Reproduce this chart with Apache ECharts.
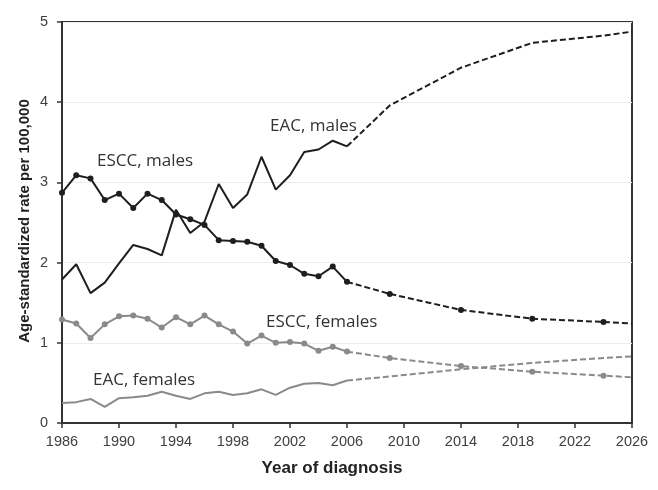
<!DOCTYPE html>
<html>
<head>
<meta charset="utf-8">
<script src="https://cdn.jsdelivr.net/npm/echarts@6/dist/echarts.min.js"></script>
<style>html,body{margin:0;padding:0;background:#fff}#c{width:658px;height:490px}</style>
</head>
<body>
<div id="c"></div>
<script>
var obsYears = [1986,1987,1988,1989,1990,1991,1992,1993,1994,1995,1996,1997,1998,1999,2000,2001,2002,2003,2004,2005,2006];
var esccMales   = [2.87,3.09,3.05,2.78,2.86,2.68,2.86,2.78,2.60,2.54,2.47,2.28,2.27,2.26,2.21,2.02,1.97,1.86,1.83,1.95,1.76];
var eacMales    = [1.79,1.98,1.62,1.75,1.99,2.22,2.17,2.09,2.66,2.37,2.51,2.98,2.68,2.85,3.32,2.91,3.09,3.38,3.41,3.52,3.45];
var esccFemales = [1.29,1.24,1.06,1.23,1.33,1.34,1.30,1.19,1.32,1.23,1.34,1.23,1.14,0.99,1.09,1.00,1.01,0.99,0.90,0.95,0.89];
var eacFemales  = [0.25,0.26,0.30,0.20,0.31,0.32,0.34,0.39,0.34,0.30,0.37,0.39,0.35,0.37,0.42,0.35,0.44,0.49,0.50,0.47,0.53];

var projYears = [2006,2009,2014,2019,2024,2026];
var esccMalesProj   = [1.76,1.61,1.41,1.30,1.26,1.24];
var eacMalesProj    = [3.45,3.96,4.43,4.74,4.83,4.88];
var esccFemalesProj = [0.89,0.81,0.71,0.64,0.59,0.57];
var eacFemalesProj  = [0.53,0.58,0.67,0.75,0.81,0.83];
var projMarked = [false,true,true,true,true,false];

var xTicks = [1986,1990,1994,1998,2002,2006,2010,2014,2018,2022,2026];
var yTicks = [0,1,2,3,4,5];

var BASE = 1986;
function pts(years, vals){ return years.map(function(y,i){ return [y-BASE, vals[i]]; }); }
function projPts(years, vals, marked){
  return years.map(function(y,i){
    return marked ? {value:[y-BASE, vals[i]], symbol: projMarked[i] ? 'circle' : 'none'} : [y-BASE, vals[i]];
  });
}
var BLACK = '#1e1e1e', GRAY = '#8a8a8a';
function solid(name, data, color, marker){
  return {name:name, type:'line', data:data, symbol: marker?'circle':'none', symbolSize:6,
    showSymbol: marker, itemStyle:{color:color}, lineStyle:{color:color, width:2}, z: 3, animation:false};
}
function dashed(name, data, color, marker){
  return {name:name, type:'line', data:data, symbol: marker?'circle':'none', symbolSize:6,
    itemStyle:{color:color}, lineStyle:{color:color, width:2, type:[6,3]}, z: 3, animation:false};
}

var chart = echarts.init(document.getElementById('c'), null, {renderer:'canvas'});
var tickFont = {fontFamily:'Liberation Sans, Arial, sans-serif', fontSize:14.5, color:'#404040'};
chart.setOption({
  animation:false,
  backgroundColor:'#fff',
  grid:{left:62, right:26, top:22, bottom:67, show:true, borderColor:'#333', borderWidth:2, backgroundColor:'transparent'},
  xAxis:{type:'value', min:0, max:40, interval:4,
    name:'Year of diagnosis', nameLocation:'middle', nameGap:37,
    nameTextStyle:{fontFamily:'Liberation Sans, Arial, sans-serif', fontSize:17, fontWeight:'bold', color:'#222', padding:[0,30,0,0]},
    axisLine:{show:true, lineStyle:{color:'#333', width:2}},
    axisTick:{show:true, inside:false, length:5, lineStyle:{color:'#333', width:1.5}},
    axisLabel:Object.assign({margin:11, formatter:function(v){ return String(v+BASE); }}, tickFont),
    splitLine:{show:false}},
  yAxis:{type:'value', min:0, max:5, interval:1,
    axisLine:{show:true, lineStyle:{color:'#333', width:2}},
    axisTick:{show:true, inside:false, length:5, lineStyle:{color:'#333', width:1.5}},
    axisLabel:Object.assign({margin:14}, tickFont),
    splitLine:{show:true, lineStyle:{color:'#ececec', width:1}}},
  series:[
    solid('EAC, females', pts(obsYears, eacFemales), GRAY, false),
    solid('ESCC, females', pts(obsYears, esccFemales), GRAY, true),
    solid('EAC, males', pts(obsYears, eacMales), BLACK, false),
    solid('ESCC, males', pts(obsYears, esccMales), BLACK, true),
    dashed('EAC, females proj', projPts(projYears, eacFemalesProj, false), GRAY, false),
    dashed('ESCC, females proj', projPts(projYears, esccFemalesProj, true), GRAY, true),
    dashed('EAC, males proj', projPts(projYears, eacMalesProj, false), BLACK, false),
    dashed('ESCC, males proj', projPts(projYears, esccMalesProj, true), BLACK, true)
  ],
  graphic:[
    {type:'text', x:25, y:221, rotation:Math.PI/2,
      style:{text:'Age-standardized rate per 100,000', font:'bold 15px "Liberation Sans", Arial, sans-serif', fill:'#222', textAlign:'center', textVerticalAlign:'middle'}},
    {type:'text', left:97, top:153, style:{text:'ESCC, males', font:'17px "Open Sans", sans-serif', fill:'#333'}},
    {type:'text', left:270, top:118, style:{text:'EAC, males', font:'17px "Open Sans", sans-serif', fill:'#333'}},
    {type:'text', left:266, top:314, style:{text:'ESCC, females', font:'17px "Open Sans", sans-serif', fill:'#333'}},
    {type:'text', left:93, top:372, style:{text:'EAC, females', font:'17px "Open Sans", sans-serif', fill:'#333'}}
  ]
});
</script>
</body>
</html>
